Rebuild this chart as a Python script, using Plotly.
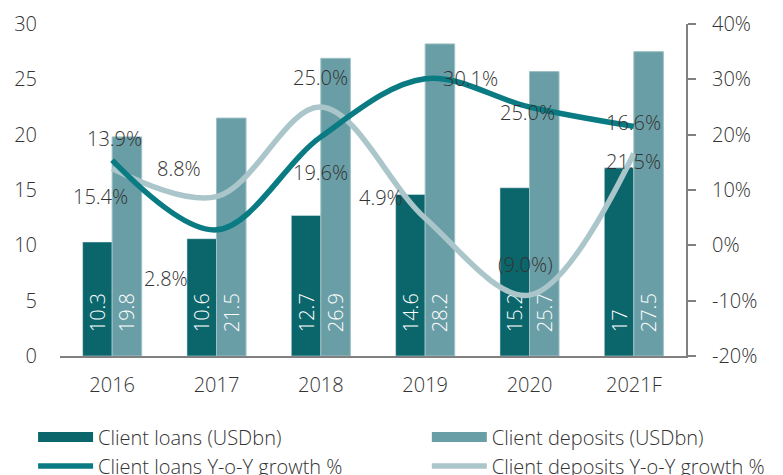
import plotly.graph_objects as go

years = ["2016", "2017", "2018", "2019", "2020", "2021F"]
loans = [10.3, 10.6, 12.7, 14.6, 15.2, 17]
deposits = [19.8, 21.5, 26.9, 28.2, 25.7, 27.5]
loans_growth = [15.4, 2.8, 19.6, 30.1, 25.0, 21.5]
deposits_growth = [13.9, 8.8, 25.0, 4.9, -9.0, 16.6]
loans_growth_labels = ["15.4%", "2.8%", "19.6%", "30.1%", "25.0%", "16.6%"]
deposits_growth_labels = ["13.9%", "8.8%", "25.0%", "4.9%", "(9.0%)", "21.5%"]
right_tick_vals = [-20, -10, 0, 10, 20, 30, 40]
right_tick_text = ["-20%", "-10%", "0%", "10%", "20%", "30%", "40%"]

# label offsets (pixels) relative to each line point
loans_label_shift = [(-12, -36), (-51, -49), (0, -36), (45, 0), (-2, -5), (0, 4)]
deposits_label_shift = [(2, 30), (-38, 28), (0, 30), (-44, 21), (-4, 31), (0, -8)]

C_LOAN_BAR = "#0b666c"
C_DEP_BAR = "#6a9ea6"
C_LOAN_LINE = "#0a7b83"
C_DEP_LINE = "#abc6ca"
TXT = "#333333"
FONT = "Open Sans"

fig = go.Figure()
fig.add_bar(
    x=years, y=loans, name="Client loans (USDbn)", marker_color=C_LOAN_BAR,
    texttemplate="\u00a0\u00a0\u00a0\u00a0%{y}", textposition="inside", insidetextanchor="start",
    textangle=-90, constraintext="none",
    textfont=dict(color="white", size=20, family=FONT, weight=300),
    showlegend=False,
)
fig.add_bar(
    x=years, y=deposits, name="Client deposits (USDbn)", marker_color=C_DEP_BAR,
    marker_line=dict(color="#9cc0c5", width=1),
    texttemplate="\u00a0\u00a0\u00a0\u00a0%{y}", textposition="inside", insidetextanchor="start",
    textangle=-90, constraintext="none",
    textfont=dict(color="white", size=20, family=FONT, weight=300),
    showlegend=False,
)
fig.add_scatter(
    x=years, y=deposits_growth, yaxis="y2", mode="lines", name="Client deposits Y-o-Y growth %",
    line=dict(color=C_DEP_LINE, width=5.5, shape="spline", smoothing=1.0),
    legend="legend2", legendrank=2,
)
fig.add_scatter(
    x=years, y=loans_growth, yaxis="y2", mode="lines", name="Client loans Y-o-Y growth %",
    line=dict(color=C_LOAN_LINE, width=5.5, shape="spline", smoothing=1.0),
    legend="legend", legendrank=2,
)
# legend proxies for the bars (wide rectangle swatches)
fig.add_scatter(x=[None], y=[None], mode="lines", name="Client loans (USDbn)",
                line=dict(color=C_LOAN_BAR, width=15), legend="legend", legendrank=1)
fig.add_scatter(x=[None], y=[None], mode="lines", name="Client deposits (USDbn)",
                line=dict(color=C_DEP_BAR, width=15), legend="legend2", legendrank=1)

annotations = []
for i, (v, lab, (dx, dy)) in enumerate(zip(loans_growth, loans_growth_labels, loans_label_shift)):
    annotations.append(dict(x=i, y=v, xref="x", yref="y2", text=lab, showarrow=False,
                            xshift=dx, yshift=dy,
                            font=dict(size=20, color=TXT, family=FONT, weight=300)))
for i, (v, lab, (dx, dy)) in enumerate(zip(deposits_growth, deposits_growth_labels, deposits_label_shift)):
    annotations.append(dict(x=i, y=v, xref="x", yref="y2", text=lab, showarrow=False,
                            xshift=dx, yshift=dy,
                            font=dict(size=20, color=TXT, family=FONT, weight=300)))

leg_common = dict(orientation="v", xanchor="left", yanchor="top", y=-0.185,
                  itemwidth=55, tracegroupgap=0, traceorder="normal",
                  bgcolor="rgba(0,0,0,0)",
                  font=dict(size=20, color=TXT, family=FONT, weight=300))

# page body has an 8px default margin: figure is sized/offset to fill the 783x475 window
fig.update_layout(
    width=775, height=467,
    margin=dict(l=52, r=97, t=16, b=119, autoexpand=False),
    paper_bgcolor="white", plot_bgcolor="white",
    font=dict(family=FONT, size=20, color=TXT, weight=300),
    barmode="group", bargap=0.434, bargroupgap=0,
    showlegend=True,
    legend=dict(x=-0.043, **leg_common),
    legend2=dict(x=0.586, **leg_common),
    xaxis=dict(type="category", range=[-0.5, 5.5], showline=True, linecolor="#808080", linewidth=2,
               showgrid=False, ticks="", ticklabelstandoff=10,
               tickfont=dict(size=20, color=TXT)),
    yaxis=dict(range=[0, 30], dtick=5, showgrid=False, showline=False, zeroline=False,
               ticks="", ticklabelstandoff=22, tickfont=dict(size=20, color=TXT)),
    yaxis2=dict(overlaying="y", side="right", range=[-20, 40],
                tickvals=right_tick_vals, ticktext=right_tick_text,
                showgrid=False, zeroline=False, showline=True, linecolor="#808080", linewidth=2,
                ticks="outside", ticklen=8, tickwidth=2, tickcolor="#808080",
                ticklabelstandoff=12, tickfont=dict(size=20, color=TXT)),
    annotations=annotations,
)

fig.write_html("out.html")
